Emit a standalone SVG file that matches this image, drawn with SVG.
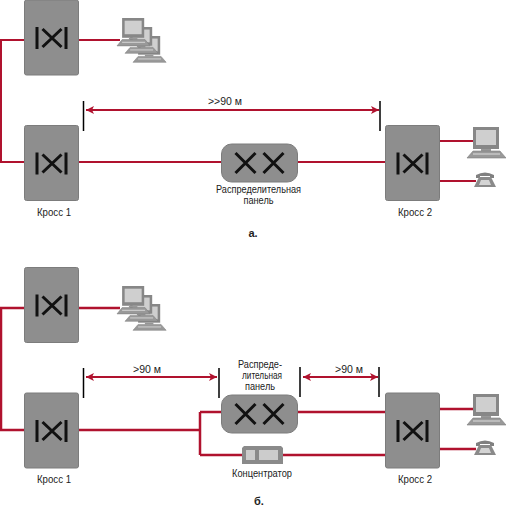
<svg xmlns="http://www.w3.org/2000/svg" width="506" height="507" viewBox="0 0 506 507">
<defs>
<style>
text{font-family:"Liberation Sans",Arial,sans-serif;font-size:11px;fill:#222;text-anchor:middle}
.r{fill:none;stroke:#b0122e;stroke-width:2}
.r2{fill:none;stroke:#b0122e;stroke-width:2.500}
.t{stroke:#000;stroke-width:1.500;fill:none}
.d{stroke:#b0122e;stroke-width:2;fill:none;marker-start:url(#a);marker-end:url(#b)}
.x{stroke:#111;stroke-width:3;fill:none}
.g{fill:#8e8e8e;stroke:#7c7c7c}
.cap{font-weight:bold}
</style>
<marker id="b" markerUnits="userSpaceOnUse" markerWidth="9" markerHeight="9" refX="8" refY="4" orient="auto"><path d="M0 0L8 4L0 8L2 4Z" fill="#b0122e"/></marker>
<marker id="a" markerUnits="userSpaceOnUse" markerWidth="9" markerHeight="9" refX="0" refY="4" orient="auto"><path d="M8 0L0 4L8 8L6 4Z" fill="#b0122e"/></marker>
<g id="cross"><rect x="0" y="0" width="54" height="75" rx="2" class="g"/><path class="x" d="M12.500 27V49M41.500 27V49M18 29L37 47M37 29L18 47"/></g>
<g id="panel"><rect x="0" y="0" width="76" height="38" rx="10" class="g"/><path class="x" d="M14 9L34 29M34 9L14 29M42 9L62 29M62 9L42 29"/></g>
<g id="pc"><path d="M6 0H32V22H6Z" fill="#878787"/><rect x="9" y="3" width="20" height="15" fill="#cfcfcf"/><path d="M14 22H24V24H14Z" fill="#999"/><path d="M6 24H33L39 31H0Z" fill="#999" stroke="#7c7c7c" stroke-width=".6"/><path d="M6 27H33" stroke="#ddd"/></g>
<g id="phone"><path d="M2 7V4Q11 -1 20 4V7H16V5H6V7Z" fill="#808080"/><path d="M5 6H17L22 16H0Z" fill="#8a8a8a"/><path d="M7 9H15L17 14H5Z" fill="#d4d4d4"/></g>
</defs>
<g id="connectors">
<path class="r" d="M24 40H1V162H24M78 40H120M78 162H222M298 162H385M439 141H474M439 181H476"/>
<path class="r2" d="M24 308H1V430H24M78 308H120M78 430H200M200 412V455M200 412H222M297 412H385M200 455H242M283 455H385M439 409H474M439 449H476"/>
<path class="d" d="M86 110H379"/>
<path class="d" d="M86 377H217"/>
<path class="d" d="M303 377H378"/>
<path class="t" d="M83.500 101V131M380 101V131M83.500 368V398M219 368V398M300 367V397M379 367V397"/>
</g>
<g id="kross-a1"><use href="#cross" x="24.500" y="0"/></g>
<use id="pcs-a3" href="#pc" transform="translate(133 36) scale(.85 .85)"/><use id="pcs-a2" href="#pc" transform="translate(125 27) scale(.85 .85)"/><use id="pcs-a1" href="#pc" transform="translate(117 18) scale(.85 .9)"/>
<g id="kross-a2"><use href="#cross" x="24.500" y="125.500"/><text x="54" y="216" textLength="34" lengthAdjust="spacingAndGlyphs">Кросс 1</text></g>
<g id="panel-a"><use href="#panel" x="221.500" y="144"/><text x="258.500" y="193" textLength="85" lengthAdjust="spacingAndGlyphs">Распределительная</text><text x="258.500" y="204" textLength="30" lengthAdjust="spacingAndGlyphs">панель</text></g>
<g id="kross-a3"><use href="#cross" x="385.500" y="125.500"/><text x="415" y="216" textLength="34" lengthAdjust="spacingAndGlyphs">Кросс 2</text></g>
<use id="pc-a" href="#pc" x="467" y="127"/>
<use id="phone-a" href="#phone" x="474" y="171"/>
<text x="225" y="105" textLength="34" lengthAdjust="spacingAndGlyphs">&gt;&gt;90 м</text>
<text class="cap" x="253" y="237">а.</text>
<g id="kross-b1"><use href="#cross" x="24.500" y="267.500"/></g>
<use id="pcs-b3" href="#pc" transform="translate(133 304) scale(.85 .85)"/><use id="pcs-b2" href="#pc" transform="translate(125 295) scale(.85 .85)"/><use id="pcs-b1" href="#pc" transform="translate(117 286) scale(.85 .9)"/>
<g id="kross-b2"><use href="#cross" x="24.500" y="393"/><text x="54" y="483" textLength="34" lengthAdjust="spacingAndGlyphs">Кросс 1</text></g>
<g id="panel-b"><use href="#panel" x="221.500" y="395"/><text x="260" y="368" textLength="44" lengthAdjust="spacingAndGlyphs">Распреде-</text><text x="262" y="379" textLength="40" lengthAdjust="spacingAndGlyphs">лительная</text><text x="260" y="390" textLength="30" lengthAdjust="spacingAndGlyphs">панель</text></g>
<g id="hub"><path d="M242 448L244 446H281L283 448V464H242Z" fill="#8a8a8a"/><rect x="246" y="450" width="9" height="10" fill="#ccc"/><rect x="259" y="450" width="19" height="10" fill="#ccc"/><text x="262" y="477" textLength="60" lengthAdjust="spacingAndGlyphs">Концентратор</text></g>
<g id="kross-b3"><use href="#cross" x="385.500" y="393"/><text x="415" y="483" textLength="34" lengthAdjust="spacingAndGlyphs">Кросс 2</text></g>
<use id="pc-b" href="#pc" x="467" y="394"/>
<use id="phone-b" href="#phone" x="474" y="439"/>
<text x="147" y="373" textLength="28" lengthAdjust="spacingAndGlyphs">&gt;90 м</text>
<text x="349" y="373" textLength="28" lengthAdjust="spacingAndGlyphs">&gt;90 м</text>
<text class="cap" x="259" y="505">б.</text>
</svg>
